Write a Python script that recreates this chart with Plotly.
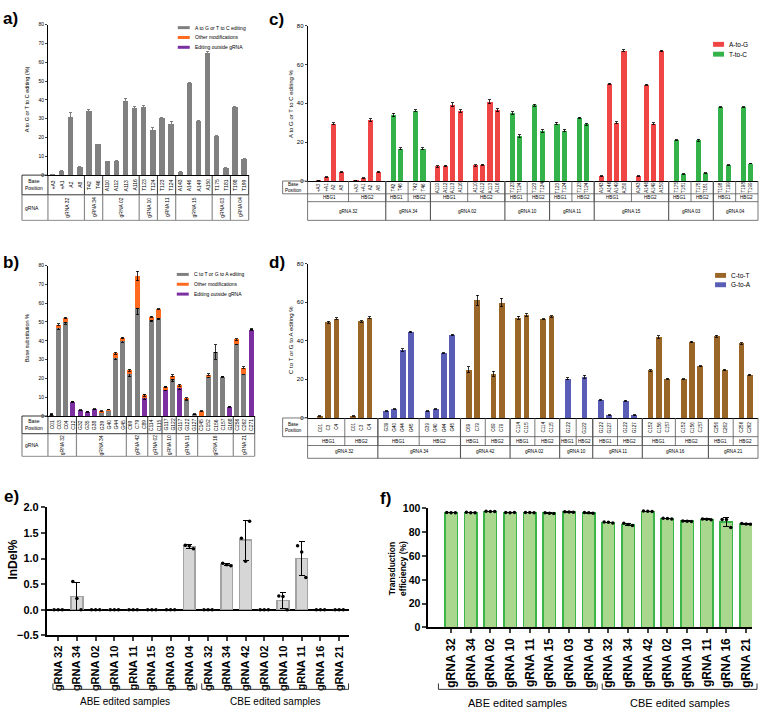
import numpy as np
import plotly.graph_objects as go

W, H = 763, 716
FONT = "Liberation Sans, Arial, sans-serif"

GRAY = "#808080"
ORANGE = "#ff6a1f"
PURPLE = "#7b2fa0"
RED = "#f04545"
GREEN = "#33b34a"
BROWN = "#9a6628"
BLUE = "#5a5db5"


def px(x):
    return x / W


def py(y):
    return 1 - y / H


# ---------------- a) ABE: A to G / T to C editing per position ----------------
a_grna = ["gRNA 32", "gRNA 34", "gRNA 02", "gRNA 10", "gRNA 11", "gRNA 15", "gRNA 03", "gRNA 04"]
a_sites = [["+A3", "+A1", "A2", "A8"], ["T42", "T46"], ["A110", "A112", "A113", "A116"],
           ["T123", "T124"], ["T123", "T124"], ["A143", "A146", "A149", "A150"],
           ["T175", "T181"], ["T198", "T199"]]
a_edit = [0.5, 2.0, 31.0, 4.3, 34.3, 16.3, 7.3, 7.7, 39.3, 35.8, 36.2, 23.8,
          30.3, 27.3, 1.7, 48.8, 28.8, 65.2, 20.7, 3.6, 36.0, 8.8]
a_err = [0, 0.2, 2.5, 0.2, 0.8, 0.2, 0.2, 0.2, 1.5, 0.8, 0.9, 1.4,
         0.5, 1.0, 0.2, 0.3, 0.3, 0.4, 0.3, 0.2, 0.3, 0.2]

# ---------------- b) CBE: C to T / G to A editing per position ----------------
b_grna = ["gRNA 32", "gRNA 34", "gRNA 42", "gRNA 02", "gRNA 10", "gRNA 11", "gRNA 16", "gRNA 21"]
b_sites = [["C01", "C03", "C04", "C12"], ["G32", "G35", "G38", "G39", "G40", "G44", "G45"],
           ["C69", "C79", "C89"], ["C114", "C115"], ["G117", "G122"], ["G117", "G122", "G127"],
           ["C145", "C152", "C156", "C157", "G168"], ["C256", "C262", "C271"]]
b_target = [0.8, 47, 49.8, 0, 0, 0, 0, 2.2, 3, 31, 40, 22.5, 57.3, 0, 51, 52, 0, 19.5,
            0, 8.8, 1, 0, 21, 34, 20.8, 0, 38.5, 22.5, 0]
b_other = [0, 1.6, 2.2, 0, 0, 0, 0, 0.4, 0.4, 2.3, 1.5, 1.8, 17.2, 1, 1.8, 4.7, 0.8, 2,
           1.3, 0.5, 0, 2.5, 1, 0, 0, 0, 2.3, 3.2, 0]
b_outside = [0, 0, 0, 7.5, 3, 2.3, 3.5, 0, 0, 0, 0, 0, 0, 10, 0, 0, 14.5, 0,
             15, 0, 0, 0, 0, 0, 0, 5, 0, 0, 46]
b_target_err = [0.3, 1.2, 1.0, 0, 0, 0, 0, 0.3, 0.3, 1.2, 0.8, 1.5, 3.5, 0, 0.8, 0.8, 0, 1.2,
                0, 0.5, 0.2, 0, 0.5, 3.8, 0.3, 0, 0.5, 0.4, 0]
b_other_err = [0, 0.4, 0.4, 0, 0, 0, 0, 0.2, 0.2, 0.5, 0.5, 0.6, 2.5, 0.5, 0.3, 0.3, 0.4, 0.5,
               0.5, 0.3, 0, 0.2, 0.4, 0, 0, 0, 0.4, 0.4, 0]
b_outside_err = [0, 0, 0, 0.4, 0.3, 0.2, 0.3, 0, 0, 0, 0, 0, 0, 1.2, 0, 0, 1.0, 0,
                 1.0, 0, 0, 0, 0, 0, 0, 0.3, 0, 0, 0.4]

# ---------------- c) ABE per HBG gene ----------------
c_grna = a_grna
c_sites = a_sites
c_hbg1 = [0.4, 2.0, 29.5, 4.5, 34.0, 16.6, 7.5, 7.8, 39.3, 36.0, 35.0, 23.2,
          29.6, 26.0, 2.5, 50.0, 30.0, 67.2, 21.0, 3.5, 38.0, 8.3]
c_hbg2 = [0.4, 1.5, 31.5, 4.7, 36.3, 16.6, 8.0, 8.3, 40.8, 36.4, 39.0, 25.8,
          32.4, 29.3, 2.5, 49.5, 29.5, 67.0, 21.0, 4.0, 38.0, 9.0]
c_hbg1_err = [0.1, 0.2, 0.5, 0.3, 0.8, 0.5, 0.3, 0.4, 1.0, 0.7, 0.7, 0.7,
              0.6, 0.6, 0.2, 0.3, 0.4, 0.3, 0.3, 0.2, 0.3, 0.2]
c_hbg2_err = [0.1, 0.2, 0.6, 0.3, 0.5, 0.5, 0.3, 0.3, 1.0, 0.7, 0.5, 0.6,
              0.4, 0.5, 0.2, 0.3, 0.4, 0.4, 0.6, 0.3, 0.3, 0.2]

# ---------------- d) CBE per HBG gene ----------------
d_grna = b_grna
d_sites = [["C01", "C3", "C4"], ["G39", "G40", "G44", "G45"], ["C69", "C79"], ["C114", "C115"],
           ["G122"], ["G122", "G127"], ["C152", "C156", "C157"], ["C256", "C262"]]
d_hbg1 = [1.0, 49.5, 51.5, 3.6, 4.7, 35.2, 44.6, 25.0, 61.0, 51.9, 53.4, 20.3,
          9.5, 1.4, 24.7, 41.9, 20.2, 42.4, 24.9]
d_hbg2 = [1.0, 50.0, 52.0, 3.6, 4.7, 33.6, 43.2, 22.9, 59.8, 51.2, 52.7, 21.4,
          9.0, 1.4, 20.0, 39.3, 26.8, 38.6, 22.4]
d_hbg1_err = [0.2, 0.5, 0.4, 0.2, 0.2, 0.7, 0.4, 1.5, 2.5, 0.8, 0.6, 0.6,
              0.3, 0.2, 0.4, 0.6, 0.3, 0.6, 0.4]
d_hbg2_err = [0.2, 0.4, 0.4, 0.2, 0.2, 0.3, 0.3, 1.2, 2.2, 0.3, 0.4, 0.7,
              0.3, 0.2, 0.3, 0.4, 0.3, 0.4, 0.3]

# ---------------- e) / f) per sample, three replicates ----------------
samples = ["gRNA 32", "gRNA 34", "gRNA 02", "gRNA 10", "gRNA 11", "gRNA 15", "gRNA 03", "gRNA 04",
           "gRNA 32", "gRNA 34", "gRNA 42", "gRNA 02", "gRNA 10", "gRNA 11", "gRNA 16", "gRNA 21"]
indel_rep1 = [0, 0.55, 0, 0, 0, 0, 0, 1.26, 0, 0.91, 1.40, 0, 0.27, 1.25, 0, 0]
indel_rep2 = [0, 0.22, 0, 0, 0, 0, 0, 1.25, 0, 0.88, 0.95, 0, 0.26, 1.13, 0, 0]
indel_rep3 = [0, 0.00, 0, 0, 0, 0, 0, 1.19, 0, 0.86, 1.73, 0, 0.00, 0.63, 0, 0]
transd_rep1 = [96.5, 96.8, 97.6, 96.5, 96.6, 96.3, 97.3, 96.5, 88.5, 87.5, 97.8, 91.8, 89.5, 91.2, 90.8, 87.3]
transd_rep2 = [96.3, 96.4, 97.4, 96.4, 96.5, 96.0, 97.0, 96.3, 88.3, 86.5, 97.6, 91.5, 89.3, 90.9, 90.6, 87.0]
transd_rep3 = [96.4, 96.3, 97.5, 96.6, 96.3, 95.7, 96.9, 95.9, 87.8, 85.6, 97.5, 91.2, 89.1, 90.5, 84.0, 86.8]

fig = go.Figure()
anns, shapes = [], []


def note(x, y, s, size=5, xref="paper", yref="paper", angle=0, xanchor="center", yanchor="middle"):
    anns.append(dict(x=x, y=y, xref=xref, yref=yref, text=s, showarrow=False, textangle=angle,
                     xanchor=xanchor, yanchor=yanchor, borderpad=0,
                     font=dict(size=size, family=FONT, color="black")))


def seg(x0, y0, x1, y1, xref="paper", yref="paper", color="black", width=0.8):
    shapes.append(dict(type="line", x0=x0, y0=y0, x1=x1, y1=y1, xref=xref, yref=yref,
                       line=dict(color=color, width=width)))


def nz(v):
    return [e if e else None for e in v]


def flat_table(xr, sites, grna, x_left, x_axis, x_right, y0, y1, y2, font=5):
    lc = "#8c8c8c"
    seg(px(x_left), py(y0), px(x_axis), py(y0))
    seg(px(x_left), py(y1), px(x_right), py(y1))
    seg(px(x_left), py(y2), px(x_right), py(y2), color=lc, width=1)
    for xx in (x_left, x_axis, x_right):
        seg(px(xx), py(y0), px(xx), py(y1))
        seg(px(xx), py(y1), px(xx), py(y2), color=lc, width=1.2)
    note(px(x_left + 2), py((y0 + y1) / 2), "Base<br>Position", size=font, xanchor="left")
    note(px(x_left + 2), py((y1 + y2) / 2), "gRNA", size=font, xanchor="left")
    n = sum(len(g) for g in sites)
    i = 0
    for g, grp in zip(grna, sites):
        for s in grp:
            note(i, py((y0 + y1) / 2), s, size=font, xref=xr, angle=-90)
            i += 1
        note(i - len(grp) / 2 - 0.5, py((y1 + y2) / 2), g, size=font, xref=xr, angle=-90)
        if i < n:
            seg(i - 0.5, py(y0), i - 0.5, py(y1), xref=xr)
            seg(i - 0.5, py(y1), i - 0.5, py(y2), xref=xr, color=lc, width=1.2)


def hbg_layout(sites):
    xs, cols, groups = [], [], []
    pos = 0
    for grp in sites:
        g_left = pos
        for h in ("HBG1", "HBG2"):
            left = pos
            xs.append([pos + 1 + k for k in range(len(grp))])
            pos += len(grp) + 1
            cols.append((left, pos, h))
        groups.append((g_left, pos))
    return xs, cols, groups, pos


def hbg_split(sites, xs, v1, e1, v2, e2, first):
    out = {True: ([], [], []), False: ([], [], [])}
    k = 0
    for gi, grp in enumerate(sites):
        for j, name in enumerate(grp):
            for h, (vals, errs) in enumerate(((v1, e1), (v2, e2))):
                o = out[first(name)]
                o[0].append(xs[2 * gi + h][j])
                o[1].append(vals[k + j])
                o[2].append(errs[k + j])
        k += len(grp)
    return out


def hbg_table(xr, sites, grna, xs, cols, groups, x_left, x_axis, x_right, y0, y1, y2, y3, font=5):
    lc = "#555555"
    seg(px(x_left), py(y0), px(x_axis), py(y0), color=lc)
    seg(px(x_left), py(y0), px(x_left), py(y1), color=lc)
    seg(px(x_left), py(y1), px(x_right), py(y1), color=lc)
    seg(px(x_axis), py(y2), px(x_right), py(y2), color=lc)
    seg(px(x_axis), py(y3), px(x_right), py(y3), color=lc)
    seg(px(x_axis), py(y0), px(x_axis), py(y3), color=lc)
    seg(px(x_right), py(y0), px(x_right), py(y3), color=lc)
    note(px(x_left + 1.5), py((y0 + y1) / 2), "Base<br>Position", size=font, xanchor="left")
    for left, right, h in cols:
        note((left + right) / 2, py((y1 + y2) / 2), h, size=font, xref=xr)
        if left > 0:
            seg(left, py(y0), left, py(y2), xref=xr, color=lc)
    for (left, right), g in zip(groups, grna):
        note((left + right) / 2, py((y2 + y3) / 2), g, size=font, xref=xr)
        if left > 0:
            seg(left, py(y0), left, py(y3), xref=xr, color=lc, width=1.1)
    for gi, grp in enumerate(sites):
        for h in range(2):
            for name, x in zip(grp, xs[2 * gi + h]):
                note(x, py((y0 + y1) / 2), name, size=font, xref=xr, angle=-90)


def legend_lines(items, x0, y0, dy, size=5, thick=3, length=12):
    for k, (name, col) in enumerate(items):
        y = y0 + k * dy
        seg(px(x0), py(y), px(x0 + length), py(y), color=col, width=thick)
        note(px(x0 + length + 4), py(y), name, size=size, xanchor="left")


def legend_boxes(items, x0, y0, dy, size=6.5):
    for k, (name, col) in enumerate(items):
        y = y0 + k * dy
        shapes.append(dict(type="rect", x0=px(x0), x1=px(x0 + 11), y0=py(y + 2.5), y1=py(y - 2.5),
                           xref="paper", yref="paper", fillcolor=col, line=dict(width=0)))
        note(px(x0 + 15), py(y), name, size=size, xanchor="left")


err_small = dict(type="data", color="black", thickness=0.8, width=1.5)

# ---- panel a ----
a_x = list(range(len(a_edit)))
fig.add_trace(go.Bar(x=a_x, y=a_edit, width=0.6, marker=dict(color=GRAY, line_width=0),
                     error_y=dict(type="data", array=a_err, color=GRAY, thickness=1, width=1.5),
                     xaxis="x", yaxis="y"))
flat_table("x", a_sites, a_grna, 22, 48, 249, 172, 192, 218)
legend_lines([("A to G or T to C editing", GRAY), ("Other modifications", ORANGE),
              ("Editing outside gRNA", PURPLE)], 178, 22, 10)
note(px(27), py(95), "A to G or T to C editing (%)", size=5.5, angle=-90)
note(px(2), py(2), "<b>a)</b>", size=17, xanchor="left", yanchor="top")

# ---- panel b ----
b_x = list(range(len(b_target)))
for vals, errs, col in ((b_target, b_target_err, GRAY), (b_outside, b_outside_err, PURPLE),
                        (b_other, b_other_err, ORANGE)):
    fig.add_trace(go.Bar(x=b_x, y=vals, width=0.7, marker=dict(color=col, line_width=0),
                         error_y=dict(err_small, array=nz(errs)), xaxis="x2", yaxis="y2"))
flat_table("x2", b_sites, b_grna, 22, 48, 255, 417, 435, 458)
legend_lines([("C to T or G to A editing", GRAY), ("Other modifications", ORANGE),
              ("Editing outside gRNA", PURPLE)], 177, 273, 10)
note(px(27), py(338), "Base substitution %", size=5.5, angle=-90)
note(px(2), py(250), "<b>b)</b>", size=17, xanchor="left", yanchor="top")

# ---- panel c ----
C_L, C_AX, C_R = 283, 308, 759
c_xs, c_cols, c_groups, c_end = hbg_layout(c_sites)
c_parts = hbg_split(c_sites, c_xs, c_hbg1, c_hbg1_err, c_hbg2, c_hbg2_err, lambda s: "A" in s)
for key, col in ((True, RED), (False, GREEN)):
    xx, yy, ee = c_parts[key]
    fig.add_trace(go.Bar(x=xx, y=yy, width=0.68, marker=dict(color=col, line_width=0),
                         error_y=dict(err_small, array=ee), xaxis="x3", yaxis="y3"))
hbg_table("x3", c_sites, c_grna, c_xs, c_cols, c_groups, C_L, C_AX, C_R, 178, 191, 199, 218, font=4.6)
legend_boxes([("A-to-G", RED), ("T-to-C", GREEN)], 714, 39, 10)
note(px(292), py(100), "A to G or T to C editing %", size=6, angle=-90)
note(px(268), py(3), "<b>c)</b>", size=17, xanchor="left", yanchor="top")

# ---- panel d ----
d_xs, d_cols, d_groups, d_end = hbg_layout(d_sites)
d_parts = hbg_split(d_sites, d_xs, d_hbg1, d_hbg1_err, d_hbg2, d_hbg2_err, lambda s: s.startswith("C"))
for key, col in ((True, BROWN), (False, BLUE)):
    xx, yy, ee = d_parts[key]
    fig.add_trace(go.Bar(x=xx, y=yy, width=0.7, marker=dict(color=col, line_width=0),
                         error_y=dict(err_small, array=ee), xaxis="x4", yaxis="y4"))
hbg_table("x4", d_sites, d_grna, d_xs, d_cols, d_groups, C_L, C_AX, C_R, 419, 438, 447, 460, font=4.6)
legend_boxes([("C-to-T", BROWN), ("G-to-A", BLUE)], 716, 274, 9.5)
note(px(292), py(340), "C to T or G to A editing %", size=6, angle=-90)
note(px(268), py(250), "<b>d)</b>", size=17, xanchor="left", yanchor="top")

# ---- panels e and f ----
s_x = list(range(len(samples)))
jit = [-0.22, 0.0, 0.22]
for reps, xa, ya, fill, edge in (((indel_rep1, indel_rep2, indel_rep3), "x5", "y5", "#d6d6d6", "#a3a3a3"),
                                 ((transd_rep1, transd_rep2, transd_rep3), "x6", "y6", "#a9d78e", "#3bb54a")):
    arr = np.array(reps)
    mean = arr.mean(axis=0)
    sd = arr.std(axis=0, ddof=1)
    fig.add_trace(go.Bar(x=s_x, y=mean, width=0.63, marker=dict(color=fill, line=dict(color=edge, width=1.5)),
                         error_y=dict(type="data", array=sd, color="black", thickness=1, width=3),
                         xaxis=xa, yaxis=ya))
    for r, dx in zip(reps, jit):
        fig.add_trace(go.Scatter(x=[x + dx for x in s_x], y=r, mode="markers",
                                 marker=dict(color="black", size=3.5), xaxis=xa, yaxis=ya))

note(px(13), py(563), "<b>InDel%</b>", size=12, angle=-90)
note(px(398), py(572), "<b>Transduction<br>efficiency (%)</b>", size=8.5, angle=-90)
note(px(3), py(488), "<b>e)</b>", size=17, xanchor="left", yanchor="top")
note(px(379), py(490), "<b>f)</b>", size=17, xanchor="left", yanchor="top")


def bracket(x0, x1, y0, y1, label, ty, size):
    shapes.append(dict(type="path", path=f"M {px(x0)},{py(y0)} L {px(x0)},{py(y1)} L {px(x1)},{py(y1)} L {px(x1)},{py(y0)}",
                       xref="paper", yref="paper", line=dict(color="#333333", width=1)))
    note(px((x0 + x1) / 2), py(ty), label, size=size)


bracket(53, 197, 689, 695, "ABE edited samples", 707, 10)
bracket(202, 349, 689, 695, "CBE edited samples", 707, 10)
bracket(439, 598, 689, 695, "ABE edited samples", 709, 11)
bracket(603, 758, 689, 695, "CBE edited samples", 709, 11)


def dom(a, b):
    return [px(a), px(b)]


def ydom(bottom, top):
    return [py(bottom), py(top)]


small_y = dict(showgrid=False, zeroline=False, showline=True, linecolor="black", linewidth=0.8,
               ticks="outside", ticklen=2, tickwidth=0.8, tickfont=dict(size=5, family=FONT))
flat_x = dict(showgrid=False, zeroline=False, showline=True, linecolor="black", linewidth=0.8,
              showticklabels=False, ticks="")
bold_y = dict(showgrid=False, showline=True, linecolor="black", linewidth=2, ticks="outside",
              ticklen=4, tickwidth=2, tickfont=dict(size=11, family=FONT, weight="bold"))
bold_x = dict(showgrid=False, zeroline=False, showline=True, linecolor="black", linewidth=2,
              ticks="outside", ticklen=4, tickwidth=1.5, tickvals=s_x, ticktext=samples, tickangle=-90,
              tickfont=dict(size=11, family=FONT, weight="bold"))

fig.update_layout(
    width=W, height=H, margin=dict(l=0, r=0, t=0, b=0),
    paper_bgcolor="white", plot_bgcolor="white", showlegend=False, barmode="stack",
    font=dict(family=FONT, color="black"),
    xaxis=dict(flat_x, domain=dom(48, 249), range=[-0.5, 21.5], anchor="y"),
    yaxis=dict(small_y, domain=ydom(172, 19), range=[0, 80], dtick=10, anchor="x"),
    xaxis2=dict(flat_x, domain=dom(48, 255), range=[-0.5, 28.5], anchor="y2"),
    yaxis2=dict(small_y, domain=ydom(417, 264), range=[0, 80], dtick=10, anchor="x2"),
    xaxis3=dict(flat_x, domain=dom(C_AX, C_R), range=[-0.5, c_end], anchor="y3"),
    yaxis3=dict(small_y, domain=ydom(178, 20), range=[0, 80], dtick=20, anchor="x3",
                tickfont=dict(size=6, family=FONT)),
    xaxis4=dict(flat_x, domain=dom(C_AX, C_R), range=[-0.5, d_end], anchor="y4"),
    yaxis4=dict(small_y, domain=ydom(419, 262), range=[0, 80], dtick=20, anchor="x4",
                tickfont=dict(size=6, family=FONT)),
    xaxis5=dict(bold_x, domain=dom(47, 349), range=[-0.6, 15.5], anchor="y5"),
    yaxis5=dict(bold_y, domain=ydom(640, 510), range=[-0.5, 2.0], dtick=0.5, tickformat=".1f",
                zeroline=True, zerolinewidth=2, zerolinecolor="black", anchor="x5"),
    xaxis6=dict(bold_x, domain=dom(429, 753), range=[-1.15, 15.3], anchor="y6",
                tickfont=dict(size=12, family=FONT, weight="bold")),
    yaxis6=dict(bold_y, domain=ydom(632, 511), range=[0, 100], dtick=20, zeroline=False, anchor="x6",
                tickfont=dict(size=10.5, family=FONT, weight="bold")),
    annotations=anns, shapes=shapes,
)

# the page body keeps its default 8px margin otherwise, which shifts the figure
fig.write_html("out.html", config={"displayModeBar": False},
               post_script="document.body.style.margin='0px';document.body.style.overflow='hidden';")
